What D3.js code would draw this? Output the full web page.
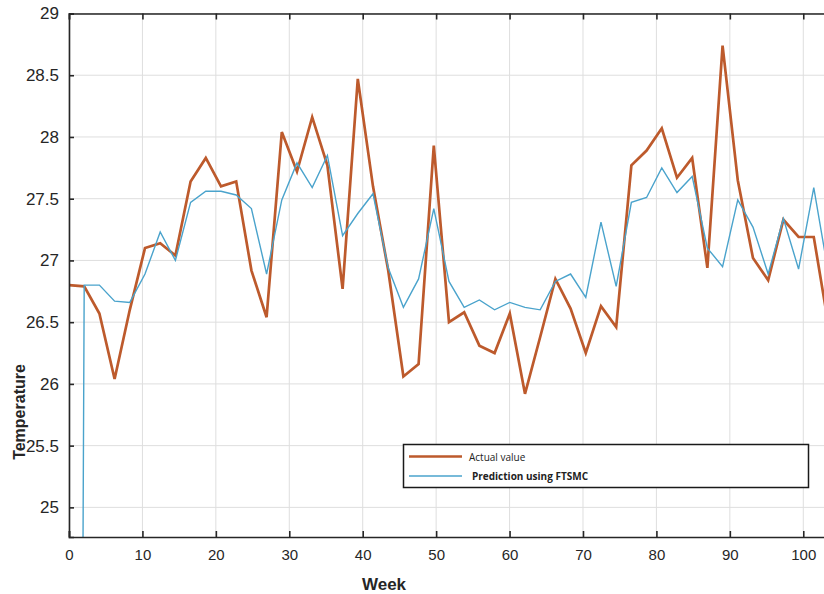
<!DOCTYPE html>
<html><head><meta charset="utf-8">
<script src="https://cdn.jsdelivr.net/npm/d3@7/dist/d3.min.js"></script>
<style>body{margin:0;background:#fff}svg{display:block}</style>
</head><body><svg id="c" width="824" height="594"></svg>
<script>
const weeks = [0, 2.07, 4.14, 6.21, 8.28, 10.35, 12.42, 14.49, 16.56, 18.63,
  20.7, 22.77, 24.84, 26.91, 28.98, 31.05, 33.12, 35.19, 37.26, 39.33,
  41.4, 43.47, 45.54, 47.61, 49.68, 51.75, 53.82, 55.89, 57.96, 60.03,
  62.1, 64.17, 66.24, 68.31, 70.38, 72.45, 74.52, 76.59, 78.66, 80.73,
  82.8, 84.87, 86.94, 89.01, 91.08, 93.15, 95.22, 97.29, 99.36, 101.43, 103.5];
const actualValue = [26.80, 26.79, 26.57, 26.04, 26.60, 27.10, 27.14, 27.04, 27.64, 27.83,
  27.60, 27.64, 26.92, 26.54, 28.04, 27.72, 28.16, 27.77, 26.77, 28.47,
  27.60, 26.92, 26.06, 26.16, 27.93, 26.50, 26.58, 26.31, 26.25, 26.57,
  25.92, 26.38, 26.85, 26.61, 26.25, 26.63, 26.46, 27.77, 27.89, 28.07,
  27.67, 27.83, 26.94, 28.74, 27.65, 27.02, 26.84, 27.33, 27.19, 27.19, 26.45];
const predictionFTSMC = [0, 26.80, 26.80, 26.67, 26.66, 26.89, 27.23, 27.00, 27.47, 27.56,
  27.56, 27.53, 27.42, 26.89, 27.49, 27.79, 27.59, 27.85, 27.20, 27.38,
  27.54, 26.94, 26.62, 26.85, 27.42, 26.83, 26.62, 26.68, 26.60, 26.66,
  26.62, 26.60, 26.83, 26.89, 26.70, 27.31, 26.79, 27.47, 27.51, 27.75,
  27.55, 27.68, 27.10, 26.95, 27.49, 27.27, 26.89, 27.34, 26.93, 27.59, 26.87];
const xTickValues = [0, 10, 20, 30, 40, 50, 60, 70, 80, 90, 100];
const yTickValues = [25, 25.5, 26, 26.5, 27, 27.5, 28, 28.5, 29];
const seriesNames = ["Actual value", "Prediction using FTSMC"];

const svg = d3.select("#c");
const L = 69, T = 13.5, B = 537, R = 825.3;
const x = d3.scaleLinear().domain([0, 103]).range([L, R]);
const y = d3.scaleLinear().domain([24.76, 29]).range([B, T]);
const font = "'Liberation Sans', Arial, sans-serif";

// grid
const g = svg.append("g");
g.selectAll(".vg").data(xTickValues).enter().append("line")
  .attr("x1", d => x(d)).attr("x2", d => x(d)).attr("y1", T).attr("y2", B)
  .attr("stroke", "#dedede").attr("stroke-width", 1);
g.selectAll(".hg").data(yTickValues).enter().append("line")
  .attr("x1", L).attr("x2", R).attr("y1", d => y(d)).attr("y2", d => y(d))
  .attr("stroke", "#dedede").attr("stroke-width", 1);

// clip
svg.append("defs").append("clipPath").attr("id", "clip")
  .append("rect").attr("x", L).attr("y", T).attr("width", R - L).attr("height", B - T);

const line = (vals) => d3.line().x((d, i) => x(weeks[i])).y(d => y(d))(vals);
const lines = svg.append("g").attr("clip-path", "url(#clip)");
lines.append("path").attr("d", line(actualValue)).attr("fill", "none")
  .attr("stroke", "#bd5a2c").attr("stroke-width", 2.7).attr("stroke-linejoin", "miter");
lines.append("path").attr("d", line(predictionFTSMC)).attr("fill", "none")
  .attr("stroke", "#4aa3cc").attr("stroke-width", 1.4);

// axes
const xAxisB = d3.axisBottom(x).tickValues(xTickValues).tickSize(-6).tickPadding(12).tickFormat(d3.format("d"));
const xAxisT = d3.axisTop(x).tickValues(xTickValues).tickSize(-6).tickFormat("");
const yAxisL = d3.axisLeft(y).tickValues(yTickValues).tickSize(-5).tickPadding(10).tickFormat(d => String(d));
const ax1 = svg.append("g").attr("transform", `translate(0,${B})`).call(xAxisB);
const ax2 = svg.append("g").attr("transform", `translate(0,${T})`).call(xAxisT);
const ax3 = svg.append("g").attr("transform", `translate(${L},0)`).call(yAxisL);
[ax1, ax2, ax3].forEach(a => {
  a.select(".domain").attr("stroke", "#262626").attr("stroke-width", 1.6);
  a.selectAll(".tick line").attr("stroke", "#262626").attr("stroke-width", 1.6);
  a.selectAll("text").attr("fill", "#262626").style("font-family", font);
});
ax1.selectAll("text").style("font-size", "15px");
ax3.selectAll("text").style("font-size", "17px");

// axis titles
svg.append("text").attr("x", 384).attr("y", 590).attr("text-anchor", "middle")
  .style("font-family", font).style("font-size", "17px").style("font-weight", "bold")
  .attr("fill", "#262626").text("Week");
svg.append("text").attr("transform", "translate(25,412) rotate(-90)").attr("text-anchor", "middle")
  .style("font-family", font).style("font-size", "16px").style("font-weight", "bold")
  .attr("fill", "#262626").text("Temperature");

// legend
const lg = svg.append("g");
lg.append("rect").attr("x", 403.5).attr("y", 444.5).attr("width", 405).attr("height", 43)
  .attr("fill", "#fff").attr("stroke", "#1a1a1a").attr("stroke-width", 1.5);
const colors = ["#bd5a2c", "#4aa3cc"];
const widths = [2.7, 1.4];
const rows = [456.5, 476];
seriesNames.forEach((name, i) => {
  lg.append("line").attr("x1", 409).attr("x2", 462).attr("y1", rows[i]).attr("y2", rows[i])
    .attr("stroke", colors[i]).attr("stroke-width", widths[i]);
  lg.append("text").attr("x", i === 0 ? 469 : 472).attr("y", rows[i] + 4)
    .style("font-family", "'Open Sans', 'Liberation Sans', sans-serif").style("font-size", "10px")
    .style("font-weight", i === 0 ? "normal" : "bold").attr("fill", "#222").text(name);
});
</script></body></html>
